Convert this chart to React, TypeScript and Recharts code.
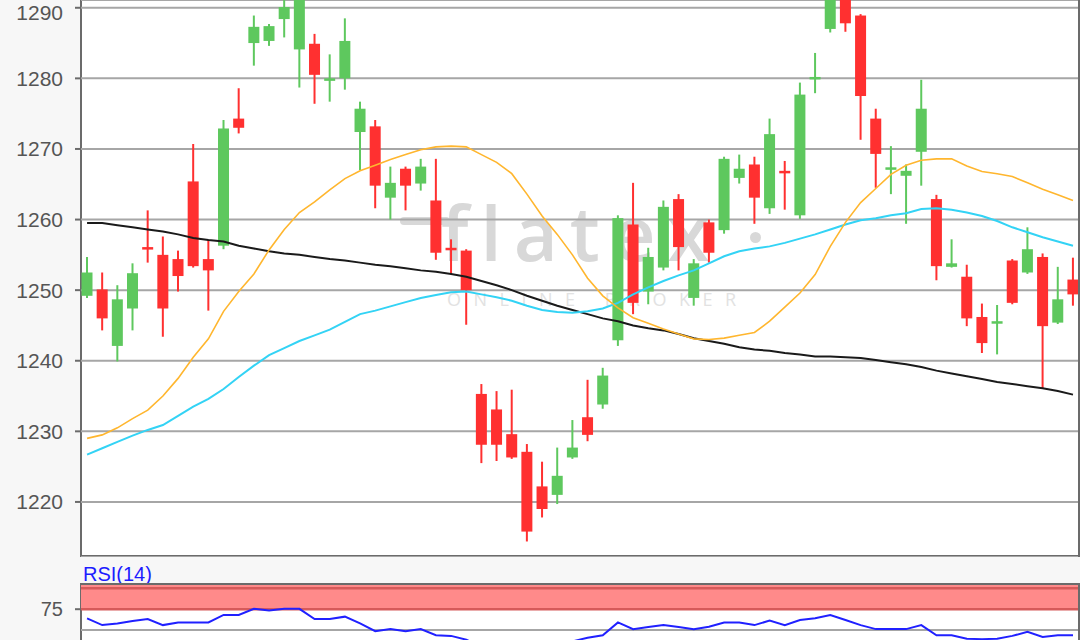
import React from 'react'
import {
  ComposedChart,
  Bar,
  Line,
  XAxis,
  YAxis,
  CartesianGrid,
  ReferenceArea,
  ReferenceLine,
} from 'recharts'

// OHLC per session
const opens = [
  1249.2, 1250.1, 1242.1, 1247.4, 1256.1, 1255.0, 1254.4, 1265.4, 1254.4, 1256.3,
  1274.3, 1285.0, 1285.3, 1288.4, 1284.1, 1284.9, 1279.7, 1280.0, 1272.4, 1273.2,
  1263.1, 1267.2, 1265.1, 1262.7, 1256.0, 1255.6, 1235.3, 1233.1, 1229.6, 1227.1,
  1222.2, 1221.0, 1226.3, 1232.0, 1233.8, 1242.9, 1259.3, 1249.8, 1253.2, 1262.9,
  1248.9, 1259.6, 1258.5, 1265.9, 1267.8, 1261.6, 1266.9, 1260.6, 1280.0, 1287.0,
  1292.0, 1288.9, 1274.3, 1267.2, 1266.2, 1269.6, 1262.9, 1253.3, 1251.9, 1246.2,
  1245.4, 1254.2, 1252.5, 1254.7, 1245.4, 1251.5,
]
const highs = [
  1254.7, 1252.5, 1250.7, 1253.8, 1261.3, 1257.6, 1255.6, 1270.7, 1257.1, 1274.1,
  1278.6, 1288.9, 1287.7, 1291.5, 1295.0, 1286.3, 1283.4, 1288.5, 1276.7, 1274.1,
  1267.5, 1267.5, 1268.6, 1268.6, 1257.2, 1255.8, 1236.7, 1235.7, 1235.9, 1228.2,
  1225.7, 1227.7, 1231.6, 1237.3, 1239.0, 1260.6, 1265.2, 1256.0, 1262.7, 1263.6,
  1254.4, 1260.0, 1268.9, 1269.2, 1268.9, 1274.3, 1268.3, 1279.4, 1283.6, 1295.0,
  1294.0, 1289.1, 1275.7, 1270.4, 1267.8, 1279.8, 1263.5, 1257.2, 1253.6, 1248.1,
  1247.9, 1254.4, 1258.9, 1255.2, 1253.3, 1254.6,
]
const lows = [
  1248.9, 1244.3, 1239.9, 1244.3, 1253.9, 1243.4, 1249.8, 1253.2, 1247.1, 1255.8,
  1272.2, 1281.8, 1284.6, 1285.8, 1278.7, 1276.4, 1276.7, 1278.4, 1267.0, 1261.6,
  1260.0, 1261.3, 1264.1, 1254.3, 1252.3, 1245.1, 1225.5, 1225.8, 1226.1, 1214.4,
  1217.8, 1219.7, 1226.1, 1228.6, 1233.2, 1242.1, 1246.6, 1248.0, 1252.8, 1252.8,
  1247.8, 1253.9, 1258.0, 1265.1, 1259.4, 1260.8, 1261.4, 1260.1, 1277.9, 1286.5,
  1286.6, 1271.3, 1264.5, 1263.6, 1259.4, 1264.8, 1251.4, 1253.2, 1244.9, 1241.1,
  1240.9, 1248.0, 1252.3, 1236.1, 1245.2, 1247.8,
]
const closes = [
  1252.5, 1246.0, 1248.7, 1252.4, 1255.9, 1247.4, 1252.0, 1253.4, 1252.8, 1272.9,
  1273.0, 1287.3, 1287.4, 1290.1, 1293.0, 1280.5, 1280.0, 1285.3, 1275.7, 1264.8,
  1265.2, 1264.8, 1267.5, 1255.3, 1255.8, 1250.0, 1228.1, 1228.1, 1226.3, 1215.8,
  1219.0, 1223.7, 1227.7, 1229.5, 1237.9, 1260.2, 1248.2, 1254.7, 1261.8, 1256.1,
  1253.8, 1255.3, 1268.6, 1267.2, 1263.1, 1272.1, 1266.7, 1277.7, 1280.2, 1293.0,
  1287.8, 1277.5, 1269.3, 1267.4, 1266.9, 1275.7, 1253.4, 1253.8, 1246.0, 1242.5,
  1245.6, 1248.2, 1255.8, 1244.9, 1248.7, 1249.4,
]

// moving averages (orange, cyan, black)
const maFast = [
  1229.0, 1229.5, 1230.5, 1231.8, 1233.0, 1235.0, 1237.5, 1240.5, 1243.1, 1247.0,
  1249.8, 1252.3, 1255.7, 1258.6, 1261.0, 1262.5, 1264.2, 1265.8, 1266.9, 1267.7,
  1268.5, 1269.2, 1269.9, 1270.3, 1270.4, 1270.3, 1269.2, 1268.1, 1266.5, 1263.6,
  1260.5, 1257.9, 1255.0, 1251.7, 1249.2, 1247.5, 1246.1, 1245.3, 1244.5, 1243.8,
  1243.1, 1243.0, 1243.2, 1243.6, 1244.0, 1245.6, 1247.6, 1249.6, 1252.2, 1256.2,
  1259.6, 1262.4, 1264.4, 1266.4, 1267.7, 1268.4, 1268.6, 1268.6, 1267.6, 1266.8,
  1266.5, 1266.1, 1265.2, 1264.3, 1263.5, 1262.7,
]
const maMid = [
  1226.7, 1227.6, 1228.5, 1229.4, 1230.2, 1230.9, 1232.2, 1233.5, 1234.6, 1236.0,
  1237.7, 1239.3, 1240.8, 1241.8, 1242.8, 1243.6, 1244.4, 1245.5, 1246.6, 1247.1,
  1247.7, 1248.3, 1248.9, 1249.3, 1249.7, 1249.8, 1249.4, 1249.0, 1248.5, 1247.8,
  1247.2, 1246.9, 1246.8, 1247.0, 1247.4, 1248.2, 1249.4, 1250.4, 1251.3, 1252.1,
  1252.8, 1253.8, 1254.8, 1255.5, 1255.9, 1256.2, 1256.7, 1257.3, 1257.9, 1258.6,
  1259.3, 1259.9, 1260.2, 1260.6, 1260.9, 1261.5, 1261.6, 1261.4, 1261.0, 1260.5,
  1259.8, 1258.9, 1258.2, 1257.5, 1256.9, 1256.3,
]
const maSlow = [
  1259.5, 1259.5, 1259.2, 1258.9, 1258.6, 1258.3, 1257.9, 1257.4, 1257.1, 1256.9,
  1256.3, 1255.9, 1255.5, 1255.2, 1255.0, 1254.7, 1254.4, 1254.2, 1253.9, 1253.6,
  1253.4, 1253.1, 1252.8, 1252.6, 1252.3, 1251.9, 1251.3, 1250.7, 1250.0, 1249.2,
  1248.5, 1247.8, 1247.2, 1246.6, 1246.0, 1245.6, 1245.0, 1244.6, 1244.3, 1243.8,
  1243.2, 1242.8, 1242.4, 1241.9, 1241.6, 1241.4, 1241.1, 1240.9, 1240.6, 1240.6,
  1240.5, 1240.4, 1240.1, 1239.8, 1239.5, 1239.1, 1238.6, 1238.2, 1237.8, 1237.4,
  1237.0, 1236.7, 1236.4, 1236.1, 1235.7, 1235.2,
]

const rsi = [
  64.1, 56.0, 58.0, 60.9, 63.3, 56.0, 59.2, 59.2, 59.2, 68.1,
  68.1, 75.4, 73.4, 75.4, 75.4, 63.3, 63.3, 66.1, 58.0, 48.7,
  51.2, 48.7, 51.2, 43.9, 43.1, 38.6, 30.0, 27.5, 26.0, 20.0,
  18.5, 24.0, 36.5, 41.0, 43.9, 59.2, 51.2, 53.6, 56.0, 53.6,
  51.2, 54.0, 59.2, 59.2, 56.0, 61.3, 56.0, 62.1, 64.1, 68.1,
  62.1, 56.0, 51.2, 51.2, 51.2, 56.0, 43.9, 43.9, 39.8, 39.2,
  39.8, 43.1, 47.9, 41.9, 43.9, 43.9,
]

const priceTicks = [1220, 1230, 1240, 1250, 1260, 1270, 1280, 1290]

const data = opens.map((o, k) => ({
  i: k + 1,
  open: o,
  high: highs[k],
  low: lows[k],
  close: closes[k],
  maFast: maFast[k],
  maMid: maMid[k],
  maSlow: maSlow[k],
  rsi: rsi[k],
}))

const GREEN = '#5ec85e'
const RED = '#ff3030'
const AXIS = '#6b6b6b'
const GRID = '#a6a6a6'
const FONT = '"Liberation Sans", Arial, sans-serif'
const X_DOMAIN: [number, number] = [0.6, 66.33]

const Candle = (props: any) => {
  const { x, y, width, height, payload } = props
  const { open, close, high, low } = payload
  const ppu = height / (high - low)
  const cx = x + width / 2
  const top = y + (high - Math.max(open, close)) * ppu
  const bh = Math.max(Math.abs(open - close) * ppu, 2.5)
  const color = close >= open ? GREEN : RED
  return (
    <g>
      <line x1={cx} x2={cx} y1={y} y2={y + height} stroke={color} strokeWidth={2} />
      <rect x={cx - 5.5} y={top} width={11} height={bh} fill={color} />
    </g>
  )
}

const tickStyle = { fill: '#555', fontSize: 21, fontFamily: FONT }

export default function App() {
  return (
    <div style={{ position: 'absolute', left: 0, top: 0, width: 1080, height: 640, background: '#f7f7f7', overflow: 'hidden' }}>
      {/* main panel frame */}
      <div style={{ position: 'absolute', left: 80, top: -4, width: 996, height: 559, background: '#fff', borderLeft: `2px solid ${AXIS}`, borderRight: `2px solid ${AXIS}`, borderBottom: `2px solid ${AXIS}` }} />
      {/* watermark */}
      <div style={{ position: 'absolute', left: 400, top: 217, width: 50, height: 8, borderRadius: 4, background: '#d8d8d8' }} />
      <div style={{ position: 'absolute', left: 441, top: 182, fontFamily: '"Open Sans", sans-serif', fontWeight: 600, fontSize: 76, lineHeight: '100px', color: '#d8d8d8', letterSpacing: 12 }}>flatex</div>
      <div style={{ position: 'absolute', left: 750, top: 232, width: 11, height: 11, borderRadius: 6, background: '#d8d8d8' }} />
      <div style={{ position: 'absolute', left: 447, top: 288, fontFamily: '"Open Sans", sans-serif', fontSize: 18, lineHeight: '22px', color: '#e2e2e2', letterSpacing: 12.5 }}>ONLINE BROKER</div>

      <div style={{ position: 'absolute', left: 0, top: 0 }}>
        <ComposedChart width={1080} height={557} data={data} margin={{ top: 0, right: 2, bottom: 0, left: 0 }}>
          <CartesianGrid horizontal vertical={false} stroke={GRID} strokeWidth={2} />
          <XAxis dataKey="i" type="number" domain={X_DOMAIN} allowDataOverflow hide />
          <YAxis
            width={81}
            domain={[1212.2, 1291.1]}
            allowDataOverflow
            ticks={priceTicks}
            axisLine={false}
            tickLine={{ stroke: AXIS, strokeWidth: 2 }}
            tickSize={6}
            tickMargin={12}
            tick={tickStyle}
          />
          <Bar dataKey={(d: any) => [d.low, d.high]} shape={<Candle />} isAnimationActive={false} />
          <Line dataKey="maSlow" stroke="#1a1a1a" strokeWidth={2} dot={false} isAnimationActive={false} />
          <Line dataKey="maMid" stroke="#33d3f5" strokeWidth={2} dot={false} isAnimationActive={false} />
          <Line dataKey="maFast" stroke="#ffb62e" strokeWidth={1.6} dot={false} isAnimationActive={false} />
        </ComposedChart>
      </div>

      {/* RSI panel */}
      <div style={{ position: 'absolute', left: 83, top: 562, fontFamily: FONT, fontSize: 20, lineHeight: '24px', color: '#1c1cff' }}>RSI(14)</div>
      <div style={{ position: 'absolute', left: 80, top: 583, width: 996, height: 70, background: '#fff', borderLeft: `2px solid ${AXIS}`, borderRight: `2px solid ${AXIS}`, borderTop: `2px solid ${AXIS}` }} />
      <div style={{ position: 'absolute', left: 0, top: 585 }}>
        <ComposedChart width={1080} height={55} data={data} margin={{ top: 0, right: 2, bottom: 0, left: 0 }}>
          <XAxis dataKey="i" type="number" domain={X_DOMAIN} allowDataOverflow hide />
          <YAxis
            width={81}
            domain={[38.2, 103.9]}
            allowDataOverflow
            ticks={[75]}
            axisLine={false}
            tickLine={{ stroke: AXIS, strokeWidth: 2 }}
            tickSize={6}
            tickMargin={12}
            tick={{ ...tickStyle, fontSize: 20 }}
          />
          <ReferenceArea y1={74} y2={103.9} fill="#ff8a8a" fillOpacity={1} stroke="none" ifOverflow="hidden" />
          <ReferenceLine y={100} stroke="#d65a5a" strokeWidth={2.5} />
          <ReferenceLine y={75} stroke="#d65a5a" strokeWidth={2.5} />
          <ReferenceLine y={50} stroke={GRID} strokeWidth={2} />
          <Line dataKey="rsi" stroke="#2020ff" strokeWidth={2} dot={false} isAnimationActive={false} />
        </ComposedChart>
      </div>
    </div>
  )
}
